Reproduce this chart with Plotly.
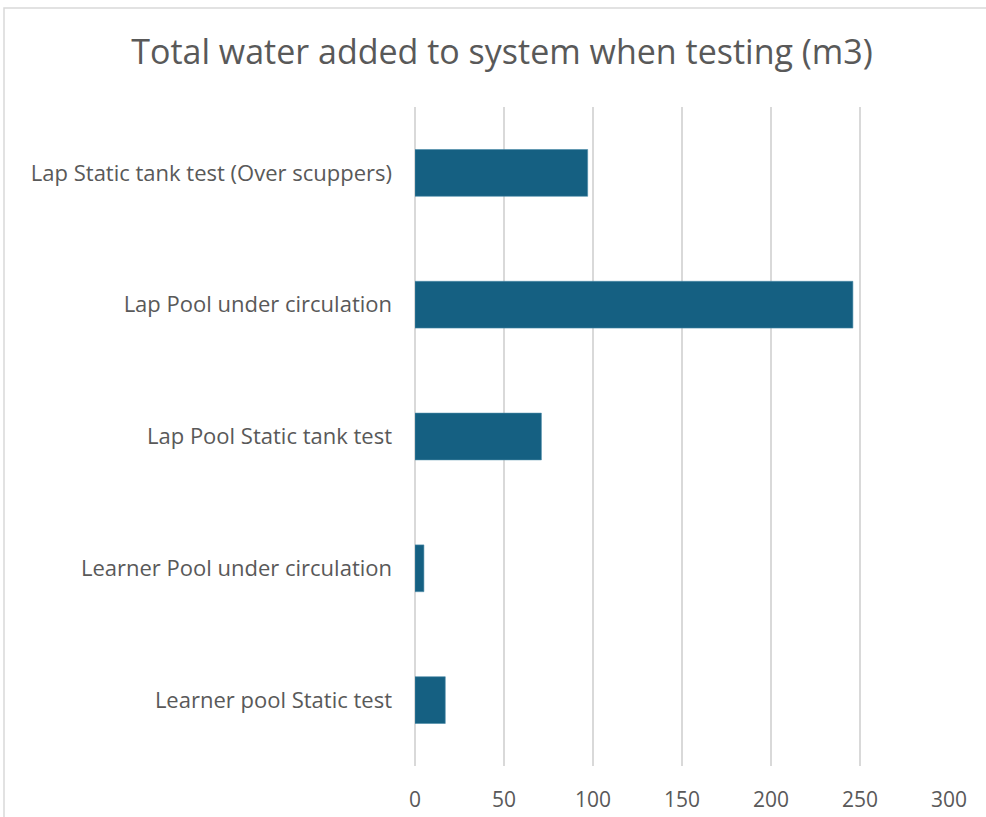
import plotly.graph_objects as go

categories = [
    "Lap Static tank test (Over scuppers)",
    "Lap Pool under circulation",
    "Lap Pool Static tank test",
    "Learner Pool under circulation",
    "Learner pool Static test",
]
values = [97, 246, 71, 5, 17]
x_ticks = [0, 50, 100, 150, 200, 250, 300]

W, H = 986, 817

fig = go.Figure(go.Bar(
    y=categories, x=values, orientation="h",
    marker=dict(color="#156082", line=dict(color="#4a8aa8", width=0.6)),
    width=0.355,
))

fig.update_layout(
    width=W, height=H,
    margin=dict(l=415, r=37, t=107, b=51),
    paper_bgcolor="white", plot_bgcolor="white",
    font=dict(family="Open Sans, sans-serif", color="#595959"),
    title=dict(text="Total water added to system when testing (m3)",
               x=502 / W, xref="container", xanchor="center",
               y=1 - 52 / H, yref="container", yanchor="middle",
               font=dict(size=34, color="#595959", family="Open Sans, sans-serif")),
    showlegend=False,
    shapes=[dict(type="rect", xref="paper", yref="paper",
                 x0=-411 / 534, x1=1.2, y0=-0.2, y1=1 + 99 / 659,
                 line=dict(color="#d9d9d9", width=1.5), layer="below")],
)
fig.update_xaxes(range=[0, 300], tickvals=x_ticks, showgrid=True,
                 gridcolor="#d9d9d9", gridwidth=1.5, zeroline=True,
                 zerolinecolor="#d9d9d9", zerolinewidth=1.5,
                 showline=False, ticks="", tickfont=dict(size=21, color="#595959"),
                 ticklabelstandoff=19, automargin=False, fixedrange=True)
fig.update_yaxes(autorange="reversed", showgrid=False, showline=False, ticks="",
                 tickfont=dict(size=22, color="#595959"), ticklabelstandoff=22,
                 automargin=False)

fig.write_html("out.html", config={"displayModeBar": False},
               post_script="document.body.style.margin='0';")
